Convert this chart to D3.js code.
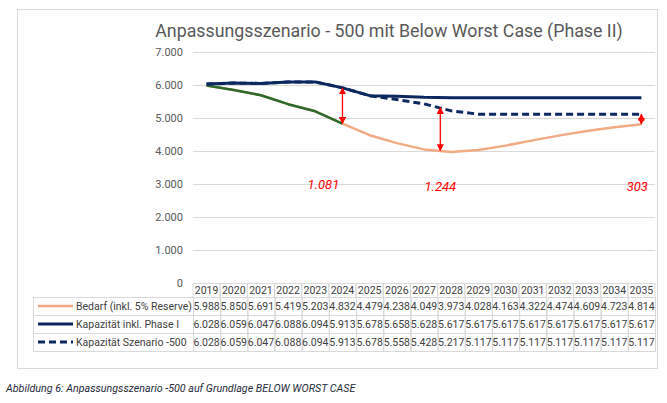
<!DOCTYPE html>
<html>
<head>
<meta charset="utf-8">
<script src="https://cdn.jsdelivr.net/npm/d3@7"></script>
<style>
  body { margin: 0; background: #fff; }
  text { font-family: Roboto, "Liberation Sans", sans-serif; }
</style>
</head>
<body>
<div id="chart"></div>
<script>
// Data
const years = ["2019", "2020", "2021", "2022", "2023", "2024", "2025", "2026", "2027",
               "2028", "2029", "2030", "2031", "2032", "2033", "2034", "2035"];
const bedarf = [5988, 5850, 5691, 5419, 5203, 4832, 4479, 4238, 4049, 3973, 4028, 4163, 4322, 4474, 4609, 4723, 4814];
const kapPhase1 = [6028, 6059, 6047, 6088, 6094, 5913, 5678, 5658, 5628, 5617, 5617, 5617, 5617, 5617, 5617, 5617, 5617];
const kapSzenario = [6028, 6059, 6047, 6088, 6094, 5913, 5678, 5558, 5428, 5217, 5117, 5117, 5117, 5117, 5117, 5117, 5117];
const seriesNames = ["Bedarf (inkl. 5% Reserve)", "Kapazität inkl. Phase I", "Kapazität Szenario -500"];
const historyEnd = "2024";  // green part of Bedarf
const yTicks = [0, 1000, 2000, 3000, 4000, 5000, 6000, 7000];

// Gap annotations (red arrows)
const gapYear = [2024, 2027.6, 2035];
const gapTop = [5913, 5320, 5117];
const gapBottom = [4832, 4010, 4814];
const gapLabels = ["1.081", "1.244", "303"];
const gapLabelYear = [2023.3, 2027.6, 2034.85];
const gapLabelValue = [2850, 2790, 2790];

const titleText = "Anpassungsszenario - 500 mit Below Worst Case (Phase II)";
const captionText = "Abbildung 6: Anpassungsszenario -500  auf Grundlage BELOW WORST CASE";

// Layout
const width = 667, height = 403;
const plot = {left: 193, right: 655, top: 52, bottom: 283};
const rowH = 18, headH = 14, legendLeft = 33;

const de = d3.formatLocale({decimal: ",", thousands: ".", grouping: [3], currency: ["", "€"]});
const fmt = de.format(",");

const colors = {bedarf: "#F2AA84", history: "#2A6A2A", kap: "#0C2860", grid: "#D9D9D9", red: "#FF0000"};

const svg = d3.select("#chart").append("svg")
    .attr("width", width)
    .attr("height", height)
    .style("display", "block");

// chart frame
svg.append("rect")
    .attr("x", 17.5).attr("y", 9.5)
    .attr("width", 640).attr("height", 359)
    .attr("fill", "#fff")
    .attr("stroke", "#D9D9D9");

const x = d3.scaleBand().domain(years).range([plot.left, plot.right]);
const y = d3.scaleLinear().domain([0, 7000]).range([plot.bottom, plot.top]);
const xc = d => x(d) + x.bandwidth() / 2;
// fractional year position along the category axis
const xYear = yr => xc(years[0]) + (yr - +years[0]) * x.step();

// title
svg.append("text")
    .attr("x", 389).attr("y", 37)
    .attr("text-anchor", "middle")
    .style("font-size", "17.8px")
    .style("fill", "#595959")
    .text(titleText);

// gridlines and y labels
svg.append("g").selectAll("line")
    .data(yTicks)
    .join("line")
    .attr("x1", plot.left).attr("x2", plot.right)
    .attr("y1", d => Math.round(y(d)) + 0.5).attr("y2", d => Math.round(y(d)) + 0.5)
    .attr("stroke", colors.grid);

svg.append("g").selectAll("text")
    .data(yTicks)
    .join("text")
    .attr("x", 183).attr("y", d => y(d) + 4)
    .attr("text-anchor", "end")
    .style("font-size", "11px")
    .style("fill", "#595959")
    .text(d => fmt(d));

// lines
const line = d3.line().x(d => xc(d.year)).y(d => y(d.value));
const toPoints = vals => years.map((yr, i) => ({year: yr, value: vals[i]}));

svg.append("path")
    .datum(toPoints(bedarf))
    .attr("d", line)
    .attr("fill", "none").attr("stroke", colors.bedarf)
    .attr("stroke-width", 2.5).attr("stroke-linejoin", "round");

svg.append("path")
    .datum(toPoints(bedarf).slice(0, years.indexOf(historyEnd) + 1))
    .attr("d", line)
    .attr("fill", "none").attr("stroke", colors.history)
    .attr("stroke-width", 2.5).attr("stroke-linejoin", "round");

svg.append("path")
    .datum(toPoints(kapSzenario))
    .attr("d", line)
    .attr("fill", "none").attr("stroke", colors.kap)
    .attr("stroke-width", 3).attr("stroke-dasharray", "7,4");

svg.append("path")
    .datum(toPoints(kapPhase1))
    .attr("d", line)
    .attr("fill", "none").attr("stroke", colors.kap)
    .attr("stroke-width", 3).attr("stroke-linejoin", "round");

// red double arrows
const defs = svg.append("defs");
defs.append("marker")
    .attr("id", "arrow")
    .attr("viewBox", "0 0 10 10")
    .attr("refX", 9).attr("refY", 5)
    .attr("markerWidth", 5.5).attr("markerHeight", 5.5)
    .attr("orient", "auto-start-reverse")
    .append("path")
    .attr("d", "M0,0 L10,5 L0,10 Z")
    .attr("fill", colors.red);

svg.append("g").selectAll("line")
    .data(gapYear)
    .join("line")
    .attr("x1", d => xYear(d)).attr("x2", d => xYear(d))
    .attr("y1", (d, i) => y(gapTop[i])).attr("y2", (d, i) => y(gapBottom[i]))
    .attr("stroke", colors.red)
    .attr("stroke-width", 1.3)
    .attr("marker-start", "url(#arrow)")
    .attr("marker-end", "url(#arrow)");

svg.append("g").selectAll("text")
    .data(gapLabels)
    .join("text")
    .attr("x", (d, i) => xYear(gapLabelYear[i]))
    .attr("y", (d, i) => y(gapLabelValue[i]))
    .attr("text-anchor", "middle")
    .style("font-size", "13px")
    .style("font-style", "italic")
    .style("fill", colors.red)
    .text(d => d);

// data table
const table = svg.append("g");
const tableTop = plot.bottom;
const rowsTop = tableTop + headH;

// header cells
table.selectAll(".head")
    .data(years)
    .join("rect")
    .attr("class", "head")
    .attr("x", d => x(d)).attr("y", tableTop + 0.5)
    .attr("width", x.bandwidth()).attr("height", headH)
    .attr("fill", "none").attr("stroke", colors.grid);

table.selectAll(".headText")
    .data(years)
    .join("text")
    .attr("class", "headText")
    .attr("x", d => xc(d)).attr("y", tableTop + 11)
    .attr("text-anchor", "middle")
    .style("font-size", "10.5px")
    .style("fill", "#404040")
    .text(d => d);

const rowData = [bedarf, kapPhase1, kapSzenario];

rowData.forEach((vals, r) => {
    const ry = rowsTop + r * rowH;
    table.append("rect")
        .attr("x", legendLeft + 0.5).attr("y", ry + 0.5)
        .attr("width", plot.left - legendLeft).attr("height", rowH)
        .attr("fill", "none").attr("stroke", colors.grid);

    table.selectAll(".cell" + r)
        .data(years)
        .join("rect")
        .attr("class", "cell" + r)
        .attr("x", d => x(d) + 0.5).attr("y", ry + 0.5)
        .attr("width", x.bandwidth()).attr("height", rowH)
        .attr("fill", "none").attr("stroke", colors.grid);

    table.selectAll(".val" + r)
        .data(vals)
        .join("text")
        .attr("class", "val" + r)
        .attr("x", (d, i) => xc(years[i])).attr("y", ry + 13)
        .attr("text-anchor", "middle")
        .style("font-size", "10.5px")
        .style("fill", "#404040")
        .text(d => fmt(d));

    // legend key
    const key = table.append("line")
        .attr("x1", 38).attr("x2", 73)
        .attr("y1", ry + rowH / 2).attr("y2", ry + rowH / 2)
        .attr("stroke", r === 0 ? colors.bedarf : colors.kap)
        .attr("stroke-width", r === 0 ? 2.5 : 3);
    if (r === 2) key.attr("stroke-dasharray", "7,4");

    table.append("text")
        .attr("x", 76).attr("y", ry + 13)
        .style("font-size", "10.5px")
        .style("fill", "#404040")
        .text(seriesNames[r]);
});

// caption
svg.append("text")
    .attr("x", 6).attr("y", 392)
    .style("font-size", "10.7px")
    .style("font-style", "italic")
    .style("fill", "#1F2A3A")
    .text(captionText);
</script>
</body>
</html>
